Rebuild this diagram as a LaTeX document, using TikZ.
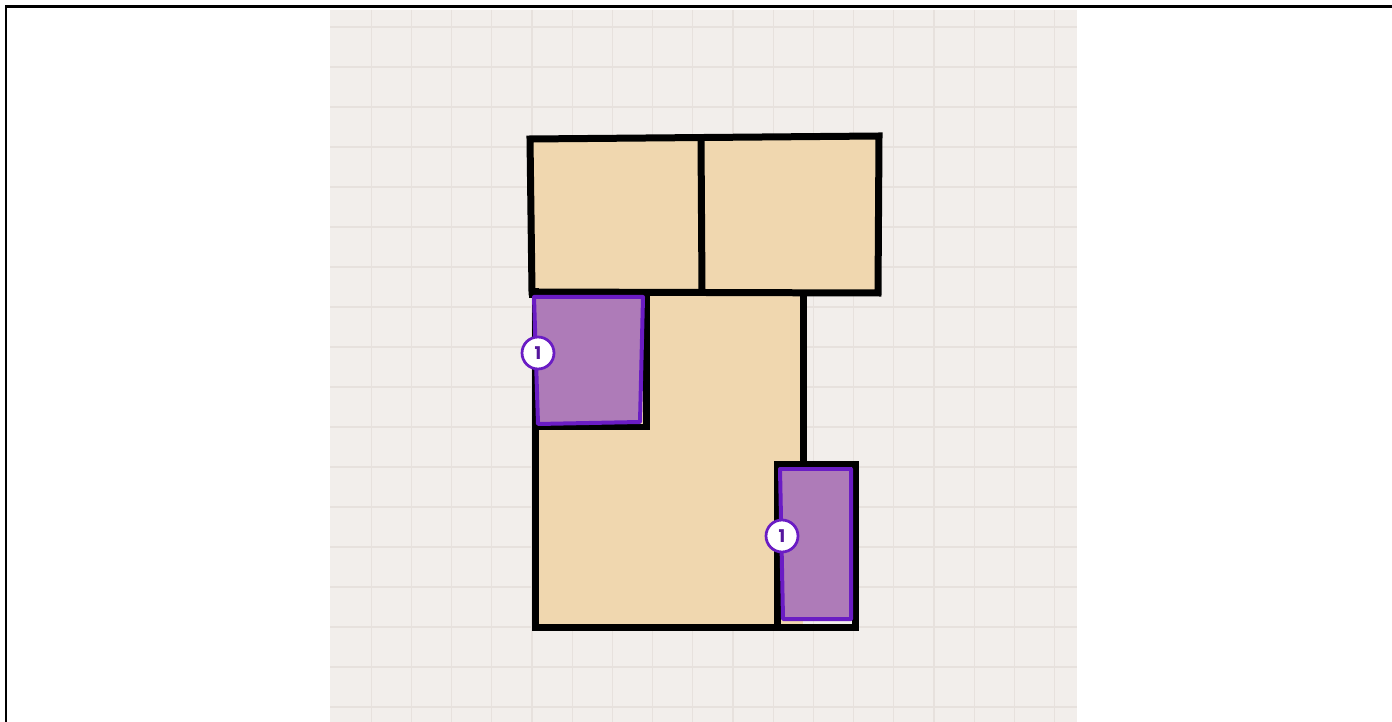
\documentclass[tikz,border=0pt]{standalone}
\usepackage{fontspec}
\setsansfont{Poppins}
\definecolor{paper}{HTML}{F2EEEB}
\definecolor{gridline}{HTML}{E7E1DD}
\definecolor{roomfill}{HTML}{F0D7AF}
\definecolor{closetfill}{HTML}{AE7BB8}
\definecolor{closetline}{HTML}{6A1CC4}
\tikzset{
  wall/.style={draw=black,line width=0.14cm,line join=miter,line cap=rect},
  closet/.style={draw=closetline,fill=closetfill,line width=0.08cm,line join=round},
  badge/.style={circle,draw=closetline,fill=white,line width=0.055cm,minimum size=0.64cm,inner sep=0pt,
    text=closetline!80!black,font=\sffamily\bfseries\normalsize}
}
\begin{document}
\begin{tikzpicture}[x=0.02cm,y=-0.02cm]
\useasboundingbox (0,0) rectangle (1392,722);
% frame
\draw[line width=0.06cm] (6,722) -- (6,7) -- (1392,7);
% grid paper
\fill[paper] (330,10) rectangle (1077,722);
\foreach \k in {1,...,18}
  \draw[gridline,line width=0.025cm] ({331+40.2*\k},10) -- ({331+40.2*\k},722);
\foreach \k in {0,...,17}
  \draw[gridline,line width=0.025cm] (330,{27+40*\k}) -- (1077,{27+40*\k});

% room fills
\fill[roomfill] (530,139) -- (879,136) -- (878,293) -- (532,292) -- cycle;
\fill[roomfill] (535,292) -- (803,292) -- (803,627) -- (535,627) -- cycle;

% walls
\draw[wall] (530,139) -- (879,136) -- (878,293) -- (532,292) -- cycle;
\draw[wall] (701,139) -- (702,292);
\draw[wall] (535,292) -- (535,627);
\draw[wall] (535,627) -- (855,627);
\draw[wall] (803,296) -- (803,464);
\draw[wall] (532,295) -- (646,295) -- (646,427) -- (535,427);
\draw[wall] (777,627) -- (777,464) -- (855,464) -- (855,627);

% closets
\draw[closet] (534,297) -- (643,297) -- (640,422) -- (538,424) -- cycle;
\draw[closet] (780,469) -- (851,469) -- (851,619) -- (783,619) -- cycle;

% badges
\node[badge] (c1) at (538,353) {1};
\node[badge] (c2) at (782,536) {1};
\end{tikzpicture}
\end{document}
